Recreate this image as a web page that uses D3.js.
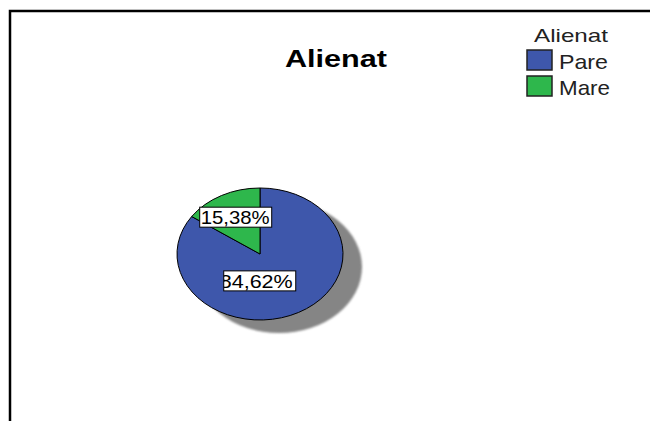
<!DOCTYPE html>
<html>
<head>
<meta charset="utf-8">
<script src="https://cdn.jsdelivr.net/npm/d3@7"></script>
<style>
  html, body { margin: 0; padding: 0; background: #fff; }
  svg { display: block; font-family: "Liberation Sans", Arial, sans-serif; }
</style>
</head>
<body>
<div id="chart"></div>
<script>
// data
var categories = ["Pare", "Mare"];
var percents = [84.62, 15.38];
var colors = ["#3E57AB", "#2EB74C"];
var chartTitle = "Alienat";
var legendTitle = "Alienat";

var width = 650, height = 421;
var cx = 260, cy = 254, rx = 83, ry = 66;

var svg = d3.select("#chart").append("svg")
    .attr("width", width)
    .attr("height", height);

var defs = svg.append("defs");
defs.append("filter").attr("id", "soft")
    .append("feGaussianBlur").attr("stdDeviation", 1.2);

// frame (only left and top edges show in the picture)
svg.append("rect")
    .attr("x", 10).attr("y", 11)
    .attr("width", 700).attr("height", 500)
    .attr("fill", "none")
    .attr("stroke", "#000")
    .attr("stroke-width", 2.5);

// title
svg.append("text")
    .attr("x", 285).attr("y", 67)
    .attr("font-size", 23)
    .attr("font-weight", "bold")
    .attr("textLength", 102)
    .attr("lengthAdjust", "spacingAndGlyphs")
    .text(chartTitle);

// shadow
svg.append("ellipse")
    .attr("cx", cx + 19).attr("cy", cy + 13)
    .attr("rx", rx).attr("ry", ry)
    .attr("fill", "#858585")
    .attr("filter", "url(#soft)");

var pie = d3.pie().sort(null).value(function (d) { return d; });
var arcs = pie(percents);
var arc = d3.arc().innerRadius(0).outerRadius(1);

var g = svg.append("g")
    .attr("transform", "translate(" + cx + "," + cy + ") scale(" + rx + "," + ry + ")");

g.selectAll("path")
    .data(arcs)
    .enter().append("path")
    .attr("d", arc)
    .attr("fill", function (d, i) { return colors[i]; })
    .attr("stroke", "#000")
    .attr("stroke-width", 1)
    .attr("vector-effect", "non-scaling-stroke");

// labels
var labelRadius = [0.46, 0.63];
var labelNudge = [-18, 0];
var fmt = function (v) { return v.toFixed(2).replace(".", ",") + "%"; };

arcs.forEach(function (d, i) {
    var mid = (d.startAngle + d.endAngle) / 2;
    var lx = cx + Math.sin(mid) * rx * labelRadius[i] + labelNudge[i];
    var ly = cy - Math.cos(mid) * ry * labelRadius[i];
    var bw = 72, bh = 20;
    var clipId = "clip" + i;
    defs.append("clipPath").attr("id", clipId)
        .append("rect")
        .attr("x", lx - bw / 2).attr("y", ly - bh / 2)
        .attr("width", bw).attr("height", bh);
    svg.append("rect")
        .attr("x", lx - bw / 2).attr("y", ly - bh / 2)
        .attr("width", bw).attr("height", bh)
        .attr("fill", "#fff")
        .attr("stroke", "#000")
        .attr("stroke-width", 1);
    svg.append("text")
        .attr("clip-path", "url(#" + clipId + ")")
        .attr("x", i === 0 ? lx - bw / 2 - 4 : lx - bw / 2 + 1)
        .attr("y", ly + 7)
        .attr("font-size", 19)
        .attr("textLength", i === 0 ? 73 : 69)
        .attr("lengthAdjust", "spacingAndGlyphs")
        .text(fmt(d.data));
});

// legend
var legend = svg.append("g");
legend.append("text")
    .attr("x", 534).attr("y", 42)
    .attr("font-size", 19)
    .attr("fill", "#222")
    .attr("textLength", 74)
    .attr("lengthAdjust", "spacingAndGlyphs")
    .text(legendTitle);

var items = legend.selectAll("g.item")
    .data(categories)
    .enter().append("g")
    .attr("class", "item")
    .attr("transform", function (d, i) { return "translate(527," + (50 + i * 26) + ")"; });

items.append("rect")
    .attr("width", 25).attr("height", 20)
    .attr("fill", function (d, i) { return colors[i]; })
    .attr("stroke", "#222")
    .attr("stroke-width", 1.5);

items.append("text")
    .attr("x", 32).attr("y", 19)
    .attr("font-size", 21)
    .attr("fill", "#222")
    .attr("textLength", function (d, i) { return i === 0 ? 49 : 51; })
    .attr("lengthAdjust", "spacingAndGlyphs")
    .text(function (d) { return d; });
</script>
</body>
</html>
